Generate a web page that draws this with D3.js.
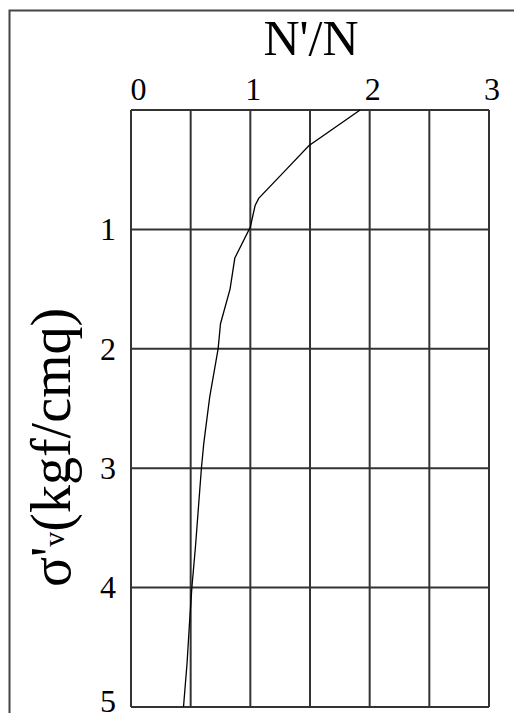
<!DOCTYPE html>
<html>
<head>
<meta charset="utf-8">
<script src="https://cdn.jsdelivr.net/npm/d3@7/dist/d3.min.js"></script>
<style>
  html, body { margin: 0; padding: 0; background: #fff; }
  svg { display: block; }
  text { font-family: "Liberation Serif", "Times New Roman", serif; fill: #000; }
</style>
</head>
<body>
<svg id="chart" width="514" height="713"></svg>
<script>
// Data
const sigmaV = [0, 0.3, 0.52, 0.74, 0.8, 0.98, 1.24, 1.5, 1.79, 2.0, 2.4, 2.79, 3.0, 3.66, 4.0, 4.3, 4.63, 5.0];
const ratio  = [1.92, 1.49, 1.28, 1.07, 1.04, 1.0, 0.87, 0.83, 0.75, 0.73, 0.66, 0.61, 0.59, 0.54, 0.51, 0.49, 0.47, 0.44];
const xTicks = [0, 1, 2, 3];
const yTicks = [1, 2, 3, 4, 5];
const xGrid = [0, 0.5, 1, 1.5, 2, 2.5, 3];
const yGrid = [0, 1, 2, 3, 4, 5];
const xTitle = "N'/N";

const svg = d3.select("#chart");
const L = 131, R = 489, T = 110, B = 707;

const x = d3.scaleLinear().domain([0, 3]).range([L, R]);
const y = d3.scaleLinear().domain([0, 5]).range([T, B]);

// outer frame (extends beyond picture)
svg.append("rect")
  .attr("x", 9.5).attr("y", 10.5)
  .attr("width", 600).attr("height", 800)
  .attr("fill", "none").attr("stroke", "#444").attr("stroke-width", 2);

// grid
const grid = svg.append("g").attr("stroke", "#333").attr("stroke-width", 2).attr("fill", "none");
grid.selectAll("line.v").data(xGrid).join("line")
  .attr("x1", d => x(d)).attr("x2", d => x(d))
  .attr("y1", T).attr("y2", B);
grid.selectAll("line.h").data(yGrid).join("line")
  .attr("y1", d => y(d)).attr("y2", d => y(d))
  .attr("x1", L).attr("x2", R);

// axes (labels only)
const xAxis = svg.append("g").attr("transform", `translate(0,${T})`)
  .call(d3.axisTop(x).tickValues(xTicks).tickSize(0).tickPadding(10).tickFormat(d3.format("d")));
xAxis.select(".domain").remove();
xAxis.selectAll("text")
  .attr("font-family", '"Liberation Serif", "Times New Roman", serif')
  .attr("font-size", 32).attr("dx", (d, i) => i === 0 ? 7 : 2.5);

const yAxis = svg.append("g").attr("transform", `translate(${L},0)`)
  .call(d3.axisLeft(y).tickValues(yTicks).tickSize(0).tickPadding(15).tickFormat(d3.format("d")));
yAxis.select(".domain").remove();
yAxis.selectAll("text")
  .attr("font-family", '"Liberation Serif", "Times New Roman", serif')
  .attr("font-size", 32)
  .attr("y", (d, i) => i === yTicks.length - 1 ? -6 : 0);

// curve
const line = d3.line().x((d, i) => x(ratio[i])).y(d => y(d));
svg.append("path")
  .datum(sigmaV)
  .attr("d", line)
  .attr("fill", "none").attr("stroke", "#000").attr("stroke-width", 1.3);

// titles
svg.append("text")
  .attr("x", 311).attr("y", 55)
  .attr("text-anchor", "middle")
  .attr("font-size", 50)
  .text(xTitle);

const yt = svg.append("text")
  .attr("transform", "translate(70,587) rotate(-90)")
  .attr("text-anchor", "start")
  .attr("font-size", 56);
yt.append("tspan").text("σ'");
yt.append("tspan").attr("font-size", 30).attr("dy", -6).text("v");
yt.append("tspan").attr("dy", 6).text("(kgf/cmq)");
</script>
</body>
</html>
